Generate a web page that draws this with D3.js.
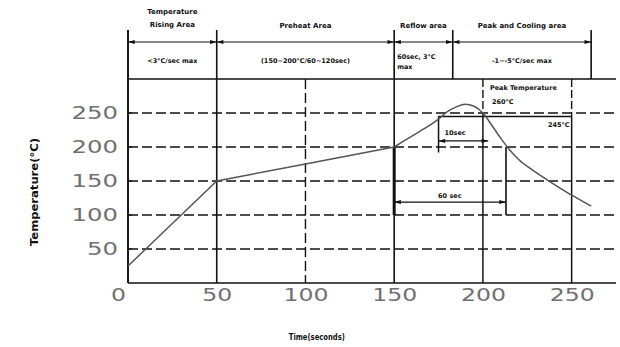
<!DOCTYPE html>
<html><head><meta charset="utf-8">
<script src="https://cdn.jsdelivr.net/npm/d3@7"></script>
<style>
html,body{margin:0;padding:0;background:#fff;}
svg{display:block;}
</style></head>
<body>
<svg id="c" width="620" height="347"></svg>
<script>
// ---- data ----
const curveTimes = [0, 10, 20, 30, 40, 50, 100, 150, 160, 170, 175, 180, 185, 190, 195, 200, 205, 210, 215, 220, 228, 236, 245, 255, 261];
const curveTemps = [25, 50, 75, 100, 125, 150, 175, 200, 216, 232, 241, 252, 259, 263, 260, 250, 232, 213, 196, 182, 166, 152, 137, 122, 113];
const xTicks = [0, 50, 100, 150, 200, 250];
const yTicks = [50, 100, 150, 200, 250];
const zoneBounds = [0, 50, 150, 183, 261];
const zoneTitles = [["Temperature", "Rising Area"], ["Preheat Area"], ["Reflow area"], ["Peak and Cooling area"]];
const zoneRates = [["<3°C/sec max"], ["(150~200°C/60~120sec)"], ["60sec, 3°C", "max"], ["-1~-5°C/sec max"]];
const peakLabel = ["Peak Temperature", "260°C"];
const peakTemp = 245, peakTempLabel = "245°C";
const peakSpan = [175, 203], peakSpanLabel = "10sec";
const liqTemp = 200, liqTempLow = 100, liqSpan = [150, 213], liqSpanLabel = "60 sec";
const boxSpan = [200, 250];
const xTitle = "Time(seconds)", yTitle = "Temperature(°C)";

// ---- chart ----
const svg = d3.select("#c");
const x = d3.scaleLinear().domain([0, 275]).range([128, 616]);
const y = d3.scaleLinear().domain([0, 300]).range([283, 79]);
const ink = "#111";
const hdrTop = 30, arrowY = 42;

const defs = svg.append("defs");
defs.append("marker").attr("id", "ah").attr("viewBox", "0 0 10 6").attr("refX", 10).attr("refY", 3)
  .attr("markerWidth", 10).attr("markerHeight", 4).attr("markerUnits", "userSpaceOnUse").attr("orient", "auto-start-reverse")
  .append("path").attr("d", "M0,0L10,3L0,6Z").attr("fill", ink);

const g = svg.append("g");

// horizontal dashed grid
g.selectAll(".hg").data(yTicks).join("line")
  .attr("x1", x(0)).attr("x2", x(275)).attr("y1", d => y(d)).attr("y2", d => y(d))
  .attr("stroke", ink).attr("stroke-width", 1.4).attr("stroke-dasharray", "10,4");

// frame
g.append("line").attr("x1", x(0)).attr("x2", x(275)).attr("y1", y(300)).attr("y2", y(300)).attr("stroke", ink).attr("stroke-width", 1.5);
g.append("line").attr("x1", x(0)).attr("x2", x(275)).attr("y1", y(0)).attr("y2", y(0)).attr("stroke", ink).attr("stroke-width", 1.5);

// header separators
g.selectAll(".sep").data(zoneBounds).join("line")
  .attr("x1", d => x(d)).attr("x2", d => x(d)).attr("y1", hdrTop).attr("y2", d => (d === 0 || d === 50 || d === 150) ? y(0) : y(300))
  .attr("stroke", ink).attr("stroke-width", 1.6);

// header arrows
d3.pairs(zoneBounds).forEach(([a, b]) => {
  g.append("line").attr("x1", x(a)).attr("x2", x(b)).attr("y1", arrowY).attr("y2", arrowY)
    .attr("stroke", ink).attr("stroke-width", 1.2)
    .attr("marker-start", "url(#ah)").attr("marker-end", "url(#ah)");
});

// header text
const hfont = "'DejaVu Sans', sans-serif";
zoneTitles.forEach((lines, i) => {
  const cx = (x(zoneBounds[i]) + x(zoneBounds[i + 1])) / 2;
  lines.forEach((t, j) => {
    const yy = lines.length === 2 ? 14 + j * 13 : 28;
    g.append("text").attr("x", cx).attr("y", yy).attr("text-anchor", "middle")
      .attr("font-family", hfont).attr("font-weight", "bold").attr("font-size", 7).attr("fill", ink).text(t);
  });
});
zoneRates.forEach((lines, i) => {
  const cx = (x(zoneBounds[i]) + x(zoneBounds[i + 1])) / 2;
  lines.forEach((t, j) => {
    const two = lines.length === 2;
    g.append("text").attr("x", two ? x(zoneBounds[i]) + 3 : cx).attr("y", two ? 59 + j * 10 : 63)
      .attr("text-anchor", two ? "start" : "middle")
      .attr("font-family", hfont).attr("font-weight", "bold").attr("font-size", 6.5).attr("fill", ink).text(t);
  });
});

// vertical lines inside plot
[100].forEach(t => {
  g.append("line").attr("x1", x(t)).attr("x2", x(t)).attr("y1", y(300)).attr("y2", y(0))
    .attr("stroke", ink).attr("stroke-width", 1.4).attr("stroke-dasharray", "10,4");
});
boxSpan.forEach(t => {
  g.append("line").attr("x1", x(t)).attr("x2", x(t)).attr("y1", y(300)).attr("y2", y(peakTemp))
    .attr("stroke", ink).attr("stroke-width", 1.4).attr("stroke-dasharray", "8,3");
  g.append("line").attr("x1", x(t)).attr("x2", x(t)).attr("y1", y(peakTemp)).attr("y2", y(0))
    .attr("stroke", ink).attr("stroke-width", 1.5);
});

// peak temperature line
g.append("line").attr("x1", x(peakSpan[0])).attr("x2", x(boxSpan[1])).attr("y1", y(peakTemp)).attr("y2", y(peakTemp))
  .attr("stroke", ink).attr("stroke-width", 1.5);
g.append("line").attr("x1", x(peakSpan[0])).attr("x2", x(peakSpan[0])).attr("y1", y(peakTemp)).attr("y2", y(192))
  .attr("stroke", ink).attr("stroke-width", 1.5);
g.append("line").attr("x1", x(peakSpan[0])).attr("x2", x(peakSpan[1])).attr("y1", y(209)).attr("y2", y(209))
  .attr("stroke", ink).attr("stroke-width", 1.2).attr("marker-start", "url(#ah)").attr("marker-end", "url(#ah)");
g.append("text").attr("x", x(peakSpan[0]) + 6).attr("y", y(218)).attr("font-family", hfont).attr("font-weight", "bold")
  .attr("font-size", 6.5).attr("fill", ink).text(peakSpanLabel);

// peak box labels
g.append("text").attr("x", x(boxSpan[0]) + 7).attr("y", 90).attr("font-family", hfont).attr("font-weight", "bold")
  .attr("font-size", 6.5).attr("fill", ink).text(peakLabel[0]);
g.append("text").attr("x", x(boxSpan[0]) + 9).attr("y", 104).attr("font-family", hfont).attr("font-weight", "bold")
  .attr("font-size", 6.5).attr("fill", ink).text(peakLabel[1]);
g.append("text").attr("x", x(boxSpan[1]) - 2).attr("y", 127).attr("text-anchor", "end").attr("font-family", hfont).attr("font-weight", "bold")
  .attr("font-size", 6.5).attr("fill", ink).text(peakTempLabel);

// liquidus span
g.append("line").attr("x1", x(liqSpan[0])).attr("x2", x(liqSpan[0])).attr("y1", y(liqTemp)).attr("y2", y(liqTempLow))
  .attr("stroke", ink).attr("stroke-width", 3);
g.append("line").attr("x1", x(liqSpan[1])).attr("x2", x(liqSpan[1])).attr("y1", y(liqTemp)).attr("y2", y(liqTempLow))
  .attr("stroke", ink).attr("stroke-width", 1.6);
g.append("line").attr("x1", x(liqSpan[0])).attr("x2", x(liqSpan[1])).attr("y1", y(119)).attr("y2", y(119))
  .attr("stroke", ink).attr("stroke-width", 1.2).attr("marker-start", "url(#ah)").attr("marker-end", "url(#ah)");
g.append("text").attr("x", (x(liqSpan[0]) + x(liqSpan[1])) / 2 - 12).attr("y", y(125)).attr("font-family", hfont).attr("font-weight", "bold")
  .attr("font-size", 6.5).attr("fill", ink).text(liqSpanLabel);

// left axis line
g.append("line").attr("x1", x(0)).attr("x2", x(0)).attr("y1", hdrTop).attr("y2", y(0)).attr("stroke", ink).attr("stroke-width", 1.6);

// curve
const pts = curveTimes.map((t, i) => [t, curveTemps[i]]);
const split = curveTimes.indexOf(150);
const lineLin = d3.line().x(d => x(d[0])).y(d => y(d[1])).curve(d3.curveLinear);
const lineMono = d3.line().x(d => x(d[0])).y(d => y(d[1])).curve(d3.curveMonotoneX);
g.append("path").attr("d", lineLin(pts.slice(0, split + 1))).attr("fill", "none").attr("stroke", "#555").attr("stroke-width", 1.5);
g.append("path").attr("d", lineMono(pts.slice(split))).attr("fill", "none").attr("stroke", "#555").attr("stroke-width", 1.5);

// axes
const tickFont = "'DejaVu Sans', sans-serif";
const xa = svg.append("g").attr("transform", `translate(0,${y(0)})`)
  .call(d3.axisBottom(x).tickValues(xTicks).tickSize(0).tickPadding(10).tickFormat(d3.format("d")));
xa.select(".domain").remove();
xa.selectAll("text").attr("font-family", tickFont).attr("font-size", 18).attr("fill", "#707070").attr("dy", "0.45em")
  .attr("textLength", d => String(d).length * 15).attr("lengthAdjust", "spacingAndGlyphs")
  .attr("dx", d => d === 0 ? -10 : 0);

const ya = svg.append("g").attr("transform", `translate(${x(0)},0)`)
  .call(d3.axisLeft(y).tickValues(yTicks).tickSize(0).tickPadding(10).tickFormat(d3.format("d")));
ya.select(".domain").remove();
ya.selectAll("text").attr("font-family", tickFont).attr("font-size", 18).attr("fill", "#707070")
  .attr("textLength", d => String(d).length * 15.5).attr("lengthAdjust", "spacingAndGlyphs");
// small inner ticks on left axis
g.selectAll(".yt").data(yTicks).join("line")
  .attr("x1", x(0)).attr("x2", x(0) + 4).attr("y1", d => y(d)).attr("y2", d => y(d)).attr("stroke", ink).attr("stroke-width", 1.2);

// axis titles
svg.append("text").attr("x", (x(100) + x(150)) / 2 - 33).attr("y", 340).attr("text-anchor", "middle")
  .attr("font-family", hfont).attr("font-weight", "bold").attr("font-size", 9).attr("fill", ink)
  .attr("textLength", 56).attr("lengthAdjust", "spacingAndGlyphs").text(xTitle);
svg.append("text").attr("transform", "translate(38,192) rotate(-90)").attr("text-anchor", "middle")
  .attr("font-family", hfont).attr("font-weight", "bold").attr("font-size", 10).attr("fill", ink)
  .attr("textLength", 108).attr("lengthAdjust", "spacingAndGlyphs").text(yTitle);
</script>
</body></html>
